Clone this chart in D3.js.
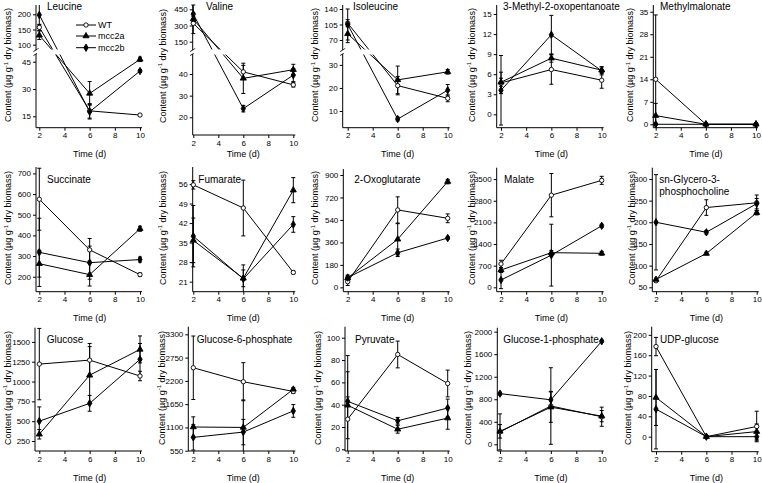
<!DOCTYPE html>
<html><head><meta charset="utf-8">
<script src="https://cdn.jsdelivr.net/npm/d3@7"></script>
<style>
body{margin:0;background:#fff}
svg{display:block}
text{font-family:"Liberation Sans",Arial,sans-serif;fill:#000}
</style>
</head><body>
<svg id="c" width="762" height="483"></svg>
<script>
// ---------------- data ----------------
const metabolites = ["Leucine","Valine","Isoleucine","3-Methyl-2-oxopentanoate","Methylmalonate",
  "Succinate","Fumarate","2-Oxoglutarate","Malate","sn-Glycero-3-\nphosphocholine",
  "Glucose","Glucose-6-phosphate","Pyruvate","Glucose-1-phosphate","UDP-glucose"];
const days = [2, 6, 10];
const xTickValues = [2, 4, 6, 8, 10];
const seriesNames = ["WT", "mcc2a", "mcc2b"];
const yTickValues = [
  [15,30,45,100,150,200], [20,30,40,150,300,450], [10,20,30,70,105,140],
  [0,3,6,9,12,15], [0,7,14,21,28,35],
  [200,300,400,500,600,700], [21,28,35,42,49,56], [0,180,360,540,720,900],
  [0,700,1400,2100,2800,3500], [50,100,150,200,250,300],
  [250,500,750,1000,1250,1500], [550,1100,1650,2200,2750,3300], [0,20,40,60,80,100],
  [0,400,800,1200,1600,2000], [0,40,80,120,160,200]
];
const wtMean = [
  [157,18,15.7],[320,41,35],[108,21,15.5],[4.7,6.7,5.1],[14,0,0],
  [575,330,210],[55.7,47.4,24.3],[45,620,553],[755,2980,3460],[65,234,245],
  [1220,1270,1070],[2510,2180,1950],[27,85,59],[220,680,490],[177,0,20]
];
const wtErr = [
  [10,4,0.8],[95,3,1],[8,4,1.5],[1.6,2.2,1.2],[20,0.2,0.2],
  [150,55,8],[1.5,10,0.5],[30,105,35],[120,700,130],[3,18,18],
  [450,210,60],[750,450,50],[57,12,12],[320,680,170],[18,2,30]
];
const mcc2aMean = [
  [131,27.6,46.3],[360,38,42],[84,23.5,27],[4.8,8.4,6.6],[2.7,0,0],
  [263,210,432],[35.8,22.2,53.8],[75,385,847],[560,1120,1100],[68,128,222],
  [335,1080,1405],[1110,1100,2000],[39.5,18,28],[230,660,500],[77,0,10]
];
const mcc2aErr = [
  [14,6.5,1.2],[25,7,2.5],[20,6,1],[0.6,0.6,0.5],[3.8,0,0],
  [65,55,12],[8,3,4.5],[15,125,18],[80,70,60],[3,3,5],
  [60,360,170],[240,650,40],[30,3.5,10],[120,270,100],[55,2,15]
];
const mcc2bMean = [
  [198,17.5,39.9],[405,24,39.5],[105,6.5,19],[3.6,11.9,6.5],[0,0,0],
  [318,268,283],[37.3,22,41.5],[78,277,395],[237,1040,1990],[200,177,243],
  [500,725,1280],[865,990,1490],[43,25.6,37],[900,790,1830],[54,0,0]
];
const mcc2bErr = [
  [33,4,0.8],[85,1.5,3],[35,0.8,2.5],[5.2,2.9,0.6],[0.3,0,0],
  [165,80,12],[11,5,2.8],[20,30,10],[280,1000,50],[110,4,12],
  [180,100,200],[300,300,150],[4,3,8],[25,150,20],[78,2,8]
];

// ---------------- layout ----------------
const layout = [
  {ax:36,   x2:39.3,  x10:140,   yb:127.7, yt:5, dom:[8.74,48.7,85.9,230.6], rng:[127.7,55,49,5], lx:8,     ly:65,  tx:47,    ty:10},
  {ax:192.7,x2:193.3, x10:293.3, yb:135,   yt:5, dom:[11.8,48.8,82,490],     rng:[135,55,49,5],   lx:162.5, ly:66,  tx:206,   ty:10},
  {ax:342.7,x2:347.7, x10:447.7, yb:127.7, yt:5, dom:[2.74,34.3,49.7,149],   rng:[127.7,55,49,5], lx:315,   ly:65,  tx:353,   ty:10},
  {ax:496.7,x2:501,   x10:601.7, yb:127.7, yt:5, dom:[-2.0,16.35],  lx:471.7, ly:65,  tx:503,   ty:10},
  {ax:653.3,x2:655.7, x10:756,   yb:127.7, yt:5, dom:[-1.06,37.1],  lx:630,   ly:65,  tx:660,   ty:10},
  {ax:36,   x2:39.3,  x10:140,   yb:291.7, yt:167,   dom:[127.5,731],  lx:8,     ly:228, tx:47,    ty:183},
  {ax:192.7,x2:193.3, x10:293.3, yb:291.7, yt:167,   dom:[17.4,62.1],  lx:162.5, ly:228, tx:198.3, ty:183},
  {ax:343.3,x2:347.7, x10:447.7, yb:291.7, yt:169,   dom:[-35,948],    lx:315,   ly:228, tx:354.3, ty:183},
  {ax:496.7,x2:501,   x10:601.7, yb:291.7, yt:167.7, dom:[-142,3869],  lx:471.7, ly:228, tx:504,   ty:183},
  {ax:652.3,x2:656,   x10:756.7, yb:291.7, yt:167.7, dom:[39.8,326],   lx:631.7, ly:228, tx:659.3, ty:183},
  {ax:35,   x2:39.3,  x10:140,   yb:451,   yt:327.7, dom:[124,1679],   lx:7.5,   ly:388, tx:46.7,  ty:343},
  {ax:188.3,x2:193.3, x10:293.3, yb:451,   yt:326.7, dom:[543,3480],   lx:161.7, ly:388, tx:196.7, ty:343},
  {ax:345,  x2:347.7, x10:447.7, yb:451,   yt:326.7, dom:[-1.5,109.9], lx:318.3, ly:388, tx:355,   ty:343},
  {ax:497.3,x2:500,   x10:601.7, yb:451,   yt:327.7, dom:[-119,2071],  lx:468.3, ly:388, tx:503.3, ty:343},
  {ax:651.7,x2:656,   x10:756.7, yb:451.7, yt:326.7, dom:[-29.5,216],  lx:628.3, ly:388, tx:660,   ty:343}
];
const timeY = [157, 321, 481];

const means = [wtMean, mcc2aMean, mcc2bMean];
const errs = [wtErr, mcc2aErr, mcc2bErr];
const symbols = [d3.symbolCircle, d3.symbolTriangle, d3.symbolDiamond];
const symSize = [15, 16, 16];
const symFill = ["#fff", "#000", "#000"];

const svg = d3.select("#c");

metabolites.forEach((name, i) => {
  const L = layout[i];
  const g = svg.append("g");
  const x = d3.scaleLinear().domain([2, 10]).range([L.x2, L.x10]);
  const y = d3.scaleLinear().domain(L.dom).range(L.rng || [L.yb, L.yt]);
  const vMin = L.dom[0], vMax = L.dom[L.dom.length - 1];
  const clampV = v => Math.max(vMin, Math.min(vMax, v));

  // x axis
  const gx = g.append("g").attr("transform", `translate(0,${L.yb})`)
    .call(d3.axisBottom(x).tickValues(xTickValues).tickFormat(d3.format("d")).tickSize(3).tickPadding(2).tickSizeOuter(0));
  gx.select(".domain").remove();
  g.append("line").attr("x1", L.ax).attr("x2", L.x10 + 2).attr("y1", L.yb).attr("y2", L.yb)
    .attr("stroke", "#000").attr("stroke-width", 1);

  // y axis
  const gy = g.append("g").attr("transform", `translate(${L.ax},0)`)
    .call(d3.axisLeft(y).tickValues(yTickValues[i]).tickFormat(d3.format("d")).tickSize(3).tickPadding(2));
  gy.select(".domain").remove();
  if (L.rng) {
    g.append("line").attr("x1", L.ax).attr("x2", L.ax).attr("y1", L.yb).attr("y2", 54)
      .attr("stroke", "#000");
    g.append("line").attr("x1", L.ax).attr("x2", L.ax).attr("y1", 50).attr("y2", L.yt)
      .attr("stroke", "#000");
    g.append("path").attr("d", `M${L.ax-2.5},${55.5}L${L.ax+2.5},${52.5}M${L.ax-2.5},${51.5}L${L.ax+2.5},${48.5}`)
      .attr("stroke", "#000").attr("stroke-width", 0.9).attr("fill", "none");
  } else {
    g.append("line").attr("x1", L.ax).attr("x2", L.ax).attr("y1", L.yb).attr("y2", L.yt)
      .attr("stroke", "#000");
  }
  g.selectAll(".tick text").attr("font-size", 8).attr("font-family", '"Liberation Sans",Arial,sans-serif');
  g.selectAll(".tick line").attr("stroke", "#000");

  // labels
  g.append("text").attr("x", (L.x2 + L.x10) / 2).attr("y", timeY[Math.floor(i / 5)])
    .attr("text-anchor", "middle").attr("font-size", 9).text("Time (d)");
  const yl = g.append("text").attr("transform", `translate(${L.lx + 3},${L.ly}) rotate(-90)`)
    .attr("text-anchor", "middle").attr("font-size", 9);
  yl.append("tspan").text("Content (\u00b5g g");
  yl.append("tspan").attr("font-size", 6).attr("dy", -3.5).text("-1");
  yl.append("tspan").attr("dy", 3.5).text(" dry biomass)");

  const tl = name.split("\n");
  tl.forEach((t, k) => {
    g.append("text").attr("x", L.tx).attr("y", L.ty + k * 12).attr("font-size", 10).text(t);
  });

  // lines
  means.forEach((M, s) => {
    const pts = days.map((d, k) => ({d, v: M[i][k]}));
    g.append("path").datum(pts)
      .attr("d", d3.line().x(p => x(p.d)).y(p => y(p.v)))
      .attr("fill", "none").attr("stroke", "#000").attr("stroke-width", 1);
  });
  if (L.rng) {
    g.append("rect").attr("x", L.ax + 1).attr("y", 49.5).attr("width", L.x10 - L.ax + 6).attr("height", 5)
      .attr("fill", "#fff");
  }
  // error bars
  means.forEach((M, s) => {
    days.forEach((d, k) => {
      const m = M[i][k], e = errs[s][i][k];
      if (e <= 0) return;
      const hi = y(clampV(m + e)), lo = y(clampV(m - e)), cx = x(d);
      const path = `M${cx},${hi}L${cx},${lo}` +
        (m + e <= vMax ? `M${cx-2},${hi}L${cx+2},${hi}` : "") +
        (m - e >= vMin ? `M${cx-2},${lo}L${cx+2},${lo}` : "");
      g.append("path").attr("d", path).attr("stroke", "#000").attr("stroke-width", 1).attr("fill", "none");
    });
  });
  // markers
  means.forEach((M, s) => {
    g.selectAll(null).data(days.map((d, k) => ({d, v: M[i][k]}))).join("path")
      .attr("transform", p => `translate(${x(p.d)},${y(p.v)})`)
      .attr("d", d3.symbol().type(symbols[s]).size(symSize[s]))
      .attr("fill", symFill[s]).attr("stroke", "#000").attr("stroke-width", 0.9);
  });
});

// legend (in first panel)
const lg = svg.append("g");
seriesNames.forEach((n, s) => {
  const yy = [25, 36, 47.7][s];
  lg.append("line").attr("x1", 76).attr("x2", 96).attr("y1", yy).attr("y2", yy).attr("stroke", "#000");
  lg.append("path").attr("transform", `translate(86,${yy})`)
    .attr("d", d3.symbol().type(symbols[s]).size(symSize[s]))
    .attr("fill", symFill[s]).attr("stroke", "#000").attr("stroke-width", 0.9);
  lg.append("text").attr("x", 98).attr("y", yy + 3.2).attr("font-size", 9).text(n);
});
</script>
</body></html>
